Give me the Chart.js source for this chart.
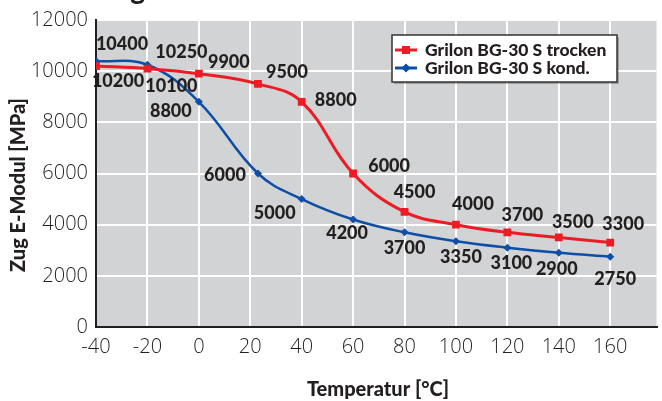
<!DOCTYPE html>
<html>
<head>
<meta charset="utf-8">
<script src="https://cdn.jsdelivr.net/npm/chart.js@4"></script>
<style>
  body { margin: 0; background: #fff; }
</style>
</head>
<body>
<canvas id="modulChart" width="662" height="401"></canvas>
<script>
(function () {
  // Messwerte
  const temperatures = [-40, -20, 0, 23, 40, 60, 80, 100, 120, 140, 160];
  const trockenValues = [10200, 10100, 9900, 9500, 8800, 6000, 4500, 4000, 3700, 3500, 3300];
  const kondValues = [10400, 10250, 8800, 6000, 5000, 4200, 3700, 3350, 3100, 2900, 2750];
  const seriesNames = ['Grilon BG-30 S trocken', 'Grilon BG-30 S kond.'];

  // Achsen
  const xMin = -40;
  const xMax = 178;
  const xStep = 20;
  const yMin = 0;
  const yMax = 12000;
  const yStep = 2000;
  const xTitle = 'Temperatur [°C]';
  const yTitle = 'Zug E-Modul [MPa]';
  const chartTitle = 'Zug E-Modul';

  // label placement (pixel offsets from each point)
  const trockenLabelOffsets = [[22, 15], [24, 18], [30, -12], [29, -12], [34, -2], [36, -7],
    [10, -20], [17, -20], [15, -17], [14, -15], [13, -18]];
  const kondLabelOffsets = [[26, -17], [34, -13], [-28, 9], [-33, 2], [-27, 14], [-6, 14],
    [0, 16], [5, 16], [4, 15], [-2, 16], [5, 23]];

  const red = '#ed1c24';
  const blue = '#0d4ea6';
  const textColor = '#231f20';
  const boldFont = '900 18px Lato';
  const tickFont = { family: 'Open Sans', size: 20, weight: 300 };

  const toPoints = (values) => values.map((v, i) => ({ x: temperatures[i], y: v }));

  const backgroundPlugin = {
    id: 'plotBackground',
    beforeDraw(chart) {
      const { ctx, chartArea } = chart;
      ctx.save();
      ctx.fillStyle = '#d1d3d4';
      ctx.fillRect(chartArea.left, chartArea.top, chartArea.right - chartArea.left, chartArea.bottom - chartArea.top);
      ctx.restore();
    },
  };

  const labelPlugin = {
    id: 'pointLabels',
    afterDatasetsDraw(chart) {
      const ctx = chart.ctx;
      const offsets = [trockenLabelOffsets, kondLabelOffsets];
      ctx.save();
      ctx.font = boldFont;
      ctx.fillStyle = textColor;
      ctx.textAlign = 'center';
      ctx.textBaseline = 'middle';
      chart.data.datasets.forEach((ds, di) => {
        chart.getDatasetMeta(di).data.forEach((pt, i) => {
          const off = offsets[di][i];
          ctx.fillText(String(ds.data[i].y), pt.x + off[0], pt.y + off[1]);
        });
      });
      ctx.restore();
    },
  };

  function drawMarker(ctx, style, x, y, color) {
    ctx.fillStyle = color;
    if (style === 'rect') {
      ctx.fillRect(x - 4, y - 4, 8, 8);
    } else {
      ctx.beginPath();
      ctx.moveTo(x, y - 4.5);
      ctx.lineTo(x + 4.5, y);
      ctx.lineTo(x, y + 4.5);
      ctx.lineTo(x - 4.5, y);
      ctx.closePath();
      ctx.fill();
    }
  }

  const decorPlugin = {
    id: 'decor',
    afterDraw(chart) {
      const ctx = chart.ctx;
      ctx.save();
      // titles
      ctx.fillStyle = textColor;
      ctx.font = '900 28px Lato';
      ctx.textAlign = 'left';
      ctx.textBaseline = 'alphabetic';
      ctx.fillText(chartTitle, 98, -1);

      ctx.font = '900 20px Lato';
      ctx.textAlign = 'center';
      ctx.textBaseline = 'middle';
      ctx.fillText(xTitle, 378, 390);
      ctx.translate(19, 185);
      ctx.rotate(-Math.PI / 2);
      ctx.fillText(yTitle, 0, 0);
      ctx.restore();

      // legend box
      ctx.save();
      const bx = 392, by = 35, bw = 225, bh = 47;
      ctx.fillStyle = 'rgba(0,0,0,0.25)';
      ctx.fillRect(bx + 2, by + 2, bw, bh);
      ctx.fillStyle = '#fff';
      ctx.fillRect(bx, by, bw, bh);
      ctx.strokeStyle = '#333';
      ctx.lineWidth = 1.5;
      ctx.strokeRect(bx, by, bw, bh);
      ctx.font = '900 17.5px Lato';
      ctx.textAlign = 'left';
      ctx.textBaseline = 'middle';
      chart.data.datasets.forEach((ds, i) => {
        const ly = by + 15 + i * 18;
        ctx.strokeStyle = ds.borderColor;
        ctx.lineWidth = 3;
        ctx.beginPath();
        ctx.moveTo(bx + 3, ly);
        ctx.lineTo(bx + 25, ly);
        ctx.stroke();
        drawMarker(ctx, ds.pointStyle, bx + 14, ly, ds.borderColor);
        ctx.fillStyle = textColor;
        ctx.fillText(ds.label, bx + 33, ly);
      });
      ctx.restore();
    },
  };

  const data = {
    datasets: [
      {
        label: seriesNames[0],
        data: toPoints(trockenValues),
        borderColor: red,
        backgroundColor: red,
        borderWidth: 3,
        pointStyle: 'rect',
        pointRadius: 5.5,
        pointBorderWidth: 0,
        tension: 0.4,
      },
      {
        label: seriesNames[1],
        data: toPoints(kondValues),
        borderColor: blue,
        backgroundColor: blue,
        borderWidth: 2.5,
        pointStyle: 'rectRot',
        pointRadius: 4,
        pointBorderWidth: 0,
        tension: 0.4,
      },
    ],
  };

  const config = {
    type: 'line',
    data,
    options: {
      responsive: false,
      animation: false,
      devicePixelRatio: 1,
      layout: { padding: { top: 17, left: 0, right: 0, bottom: 0 } },
      scales: {
        x: {
          type: 'linear',
          min: xMin,
          max: xMax,
          afterFit: (scale) => { scale.height = 74; },
          ticks: {
            stepSize: xStep,
            includeBounds: false,
            autoSkip: false,
            maxRotation: 0,
            padding: 8,
            color: textColor,
            font: tickFont,
            callback: (v) => String(v),
          },
          grid: { color: '#ffffff', lineWidth: 2, drawTicks: false },
          border: { display: true, color: textColor, width: 2 },
        },
        y: {
          min: yMin,
          max: yMax,
          afterFit: (scale) => { scale.width = 96; },
          ticks: {
            stepSize: yStep,
            padding: 8,
            color: textColor,
            font: tickFont,
            callback: (v) => String(v),
          },
          grid: { color: '#ffffff', lineWidth: 2, drawTicks: false },
          border: { display: true, color: textColor, width: 2 },
        },
      },
      plugins: {
        legend: { display: false },
        tooltip: { enabled: false },
      },
    },
    plugins: [backgroundPlugin, labelPlugin, decorPlugin],
  };

  const modulChart = new Chart(document.getElementById('modulChart'), config);
})();
</script>
</body>
</html>
